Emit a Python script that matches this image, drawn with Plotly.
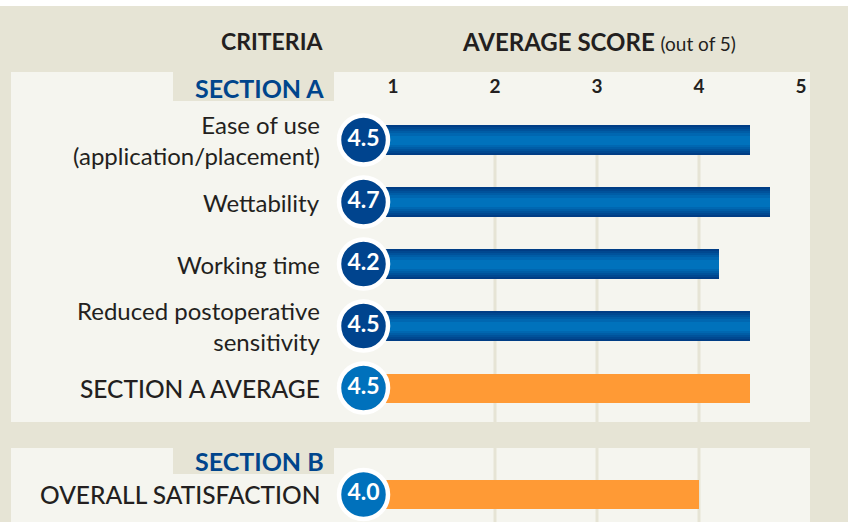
import plotly.graph_objects as go

# ---------------- data ----------------
section_a_labels = ["Ease of use\n(application/placement)", "Wettability", "Working time",
                    "Reduced postoperative\nsensitivity"]
section_a_scores = [4.5, 4.7, 4.2, 4.5]
section_a_avg_label = "SECTION A AVERAGE"
section_a_avg = 4.5
section_b_label = "OVERALL SATISFACTION"
section_b_score = 4.0
tick_vals = [1, 2, 3, 4, 5]
grid_vals = [2, 3, 4]

# ---------------- geometry helpers ----------------
W, H = 848, 522
X0, XS = 291.0, 102.0      # pixel = X0 + XS * value
Y0, YS = 140.0, 62.0       # pixel = Y0 + YS * slot

def px_to_val(px):
    return (px - X0) / XS

def px_to_slot(py):
    return (py - Y0) / YS

def py(p):  # pixel -> paper y
    return 1 - p / H

def pxp(p):  # pixel -> paper x
    return p / W

slots_a = [0, 1, 2, 3]
slot_avg = 4
slot_b = px_to_slot(494.5)

DARK = "#231F20"
BLUE_TXT = "#00458C"
BG = "#E6E4D5"
PANEL = "#F5F5EF"
ORANGE = "#FF9A35"
CIRC_DARK = "#00448E"
CIRC_LIGHT = "#0071BC"
FONT = "Lato"

def lerp_color(c1, c2, t):
    a = [int(c1[i:i + 2], 16) for i in (1, 3, 5)]
    b = [int(c2[i:i + 2], 16) for i in (1, 3, 5)]
    return "#" + "".join(f"{round(a[k] + (b[k] - a[k]) * t):02x}" for k in range(3))

fig = go.Figure()

base = px_to_val(368)
bar_w = 30 / YS

# gradient blue bars: overlaid layers
layers = [1.0, 0.86, 0.72, 0.58, 0.44, 0.3]
for i, f in enumerate(layers):
    col = lerp_color("#003D85", "#0072BC", i / (len(layers) - 1))
    fig.add_trace(go.Bar(
        orientation="h", y=slots_a, x=[s - base for s in section_a_scores], base=base,
        width=bar_w * f, marker=dict(color=col, line=dict(width=0)),
        hoverinfo="skip", showlegend=False))

# orange bars
fig.add_trace(go.Bar(
    orientation="h", y=[slot_avg, slot_b], x=[section_a_avg - base, section_b_score - base],
    base=base, width=29 / YS, marker=dict(color=ORANGE, line=dict(width=0)),
    hoverinfo="skip", showlegend=False))

# circles with values
circ_x = px_to_val(363.5)
all_slots = slots_a + [slot_avg, slot_b]
all_scores = section_a_scores + [section_a_avg, section_b_score]
circ_cols = [CIRC_DARK] * len(slots_a) + [CIRC_LIGHT, CIRC_LIGHT]
fig.add_trace(go.Scatter(
    x=[circ_x] * len(all_slots), y=all_slots, mode="markers+text",
    marker=dict(size=49, color=circ_cols, line=dict(color="white", width=4.5)),
    text=[f"{v:.1f}" for v in all_scores], textposition="middle center",
    textfont=dict(family=FONT, size=23, color="white", weight=700),
    hoverinfo="skip", showlegend=False, cliponaxis=False))

shapes = []
# white strip on top
shapes.append(dict(type="rect", xref="paper", yref="paper", x0=0, x1=1, y0=py(6), y1=1,
                   fillcolor="white", line=dict(width=0), layer="below"))
# panels
shapes.append(dict(type="rect", xref="paper", yref="paper", x0=pxp(11), x1=pxp(810),
                   y0=py(422), y1=py(72), fillcolor=PANEL, line=dict(width=0), layer="below"))
shapes.append(dict(type="rect", xref="paper", yref="paper", x0=pxp(11), x1=pxp(810),
                   y0=0, y1=py(448), fillcolor=PANEL, line=dict(width=0), layer="below"))
# section label boxes
shapes.append(dict(type="rect", xref="paper", yref="paper", x0=pxp(173), x1=pxp(334),
                   y0=py(101), y1=py(72), fillcolor=BG, line=dict(width=0), layer="below"))
shapes.append(dict(type="rect", xref="paper", yref="paper", x0=pxp(173), x1=pxp(334),
                   y0=py(474), y1=py(448), fillcolor=BG, line=dict(width=0), layer="below"))
# grid lines
for g in grid_vals:
    for a, b in ((125, 422), (448, 522)):
        shapes.append(dict(type="line", xref="x", yref="paper", x0=g, x1=g, y0=py(b), y1=py(a),
                           line=dict(color=BG, width=3), layer="below"))

ann = []
label_x = px_to_val(322)
for lab, s in zip(section_a_labels, slots_a):
    ann.append(dict(x=label_x, y=s, xref="x", yref="y", text=lab.replace("\n", "<br>"),
                    showarrow=False, xanchor="right", yanchor="middle", align="right",
                    font=dict(family=FONT, size=24, color=DARK)))
for lab, s in ((section_a_avg_label, slot_avg), (section_b_label, slot_b)):
    ann.append(dict(x=label_x, y=s, xref="x", yref="y", text=lab, showarrow=False,
                    xanchor="right", yanchor="middle",
                    font=dict(family=FONT, size=24.5, color=DARK, weight=500)))

# headers
ann.append(dict(x=pxp(325), y=py(41), xref="paper", yref="paper", text="CRITERIA",
                showarrow=False, xanchor="right", yanchor="middle",
                font=dict(family=FONT, size=23, color=DARK, weight=700)))
ann.append(dict(x=pxp(460), y=py(41), xref="paper", yref="paper",
                text="AVERAGE SCORE <span style='font-size:19px;font-weight:400'>(out of 5)</span>",
                showarrow=False, xanchor="left", yanchor="middle",
                font=dict(family=FONT, size=24, color=DARK, weight=700)))
ann.append(dict(x=pxp(326), y=py(88), xref="paper", yref="paper", text="SECTION A",
                showarrow=False, xanchor="right", yanchor="middle",
                font=dict(family=FONT, size=25, color=BLUE_TXT, weight=700)))
ann.append(dict(x=pxp(326), y=py(461), xref="paper", yref="paper", text="SECTION B",
                showarrow=False, xanchor="right", yanchor="middle",
                font=dict(family=FONT, size=25, color=BLUE_TXT, weight=700)))

fig.update_layout(
    width=W, height=H, margin=dict(l=0, r=0, t=0, b=0),
    paper_bgcolor=BG, plot_bgcolor="rgba(0,0,0,0)",
    barmode="overlay", bargap=0, shapes=shapes, annotations=ann,
    xaxis=dict(range=[px_to_val(0), px_to_val(W)], showgrid=False, zeroline=False,
               side="top", anchor="free", position=py(97), tickvals=tick_vals,
               ticks="", showline=False,
               tickfont=dict(family=FONT, size=19, color=DARK, weight=700)),
    yaxis=dict(range=[px_to_slot(H), px_to_slot(0)], showgrid=False, zeroline=False,
               showticklabels=False, ticks="", showline=False),
)

fig.write_html("out.html", config={"displayModeBar": False},
               post_script="document.body.style.margin='0';document.body.style.overflow='hidden';")
